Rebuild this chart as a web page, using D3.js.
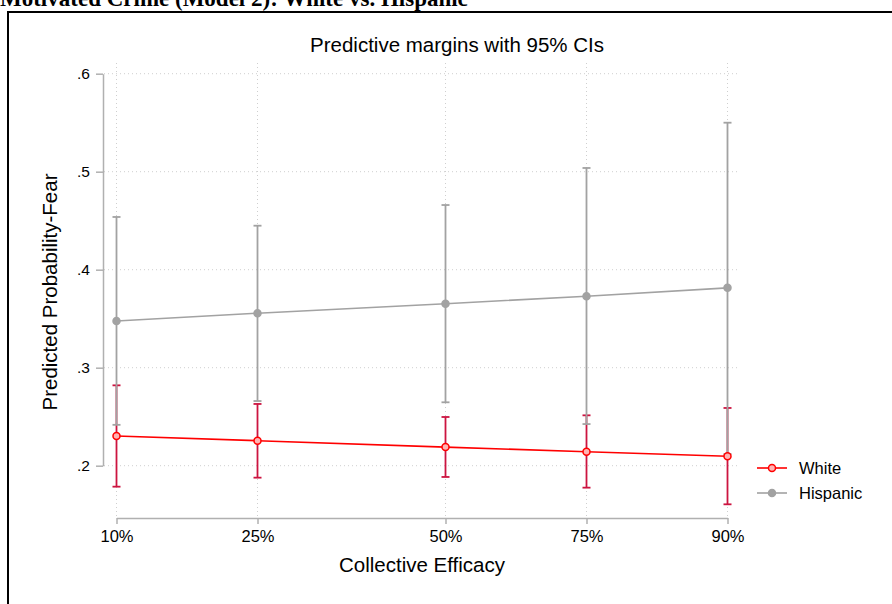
<!DOCTYPE html>
<html>
<head>
<meta charset="utf-8">
<script src="https://cdn.jsdelivr.net/npm/d3@7"></script>
<style>
  body { margin: 0; background: #fff; }
  svg { display: block; font-family: "Liberation Sans", Arial, sans-serif; }
</style>
</head>
<body>
<div id="chart"></div>
<script>
// Chart data
const percentileLabels = ["10%", "25%", "50%", "75%", "90%"];
const efficacyValues = [-0.65, -0.35, 0.05, 0.35, 0.65];
const yTicks = [0.2, 0.3, 0.4, 0.5, 0.6];

const whiteMargin = [0.2303, 0.2255, 0.219, 0.2143, 0.2096];
const whiteLower = [0.1786, 0.1878, 0.1885, 0.1776, 0.1606];
const whiteUpper = [0.282, 0.263, 0.2497, 0.2514, 0.2589];

const hispanicMargin = [0.3477, 0.3556, 0.3653, 0.3729, 0.3815];
const hispanicLower = [0.2417, 0.266, 0.2647, 0.2425, 0.212];
const hispanicUpper = [0.4538, 0.4449, 0.466, 0.5038, 0.55];

const seriesNames = ["White", "Hispanic"];

//Chart Variables and Constants
const width = 892;
const height = 604;
const lineRed = "#ff0000";
const ciRed = "#cc1440";
const gray = "#a2a2a2";
const axisGray = "#b0b0b0";
const gridGray = "#cfcfcf";

const svg = d3
  .select("#chart")
  .append("svg")
  .attr("width", width)
  .attr("height", height);

//Outer title and frame
svg
  .append("text")
  .attr("x", 0)
  .attr("y", 6)
  .attr("font-family", "'Liberation Serif', 'Times New Roman', serif")
  .attr("font-weight", "bold")
  .attr("font-size", "23px")
  .text("Motivated Crime (Model 2): White vs. Hispanic");

svg
  .append("rect")
  .attr("x", 8)
  .attr("y", 12)
  .attr("width", 900)
  .attr("height", 620)
  .attr("fill", "none")
  .attr("stroke", "#000")
  .attr("stroke-width", 2);

//Scales
const x = d3
  .scaleLinear()
  .domain([efficacyValues[0], efficacyValues[efficacyValues.length - 1]])
  .range([116.5, 727.5]);

const y = d3.scaleLinear().domain([0.2, 0.6]).range([465.7, 73.7]);

const plotTop = 63;
const plotBottom = 518;
const plotLeft = 104;
const plotRight = 739;

//Gridlines
const grid = svg.append("g").attr("class", "grid");
grid
  .selectAll(".hgrid")
  .data(yTicks)
  .enter()
  .append("line")
  .attr("x1", plotLeft)
  .attr("x2", plotRight)
  .attr("y1", (d) => y(d))
  .attr("y2", (d) => y(d))
  .attr("stroke", gridGray)
  .attr("stroke-dasharray", "1,3");

grid
  .selectAll(".vgrid")
  .data(efficacyValues)
  .enter()
  .append("line")
  .attr("x1", (d) => x(d))
  .attr("x2", (d) => x(d))
  .attr("y1", plotTop)
  .attr("y2", plotBottom)
  .attr("stroke", gridGray)
  .attr("stroke-dasharray", "1,3");

//Axes
const yAxis = svg
  .append("g")
  .attr("transform", `translate(${plotLeft - 1},0)`)
  .call(
    d3
      .axisLeft(y)
      .tickValues(yTicks)
      .tickFormat((d) => d3.format(".1f")(d).replace(/^0/, ""))
      .tickSize(7)
      .tickSizeOuter(0)
      .tickPadding(6)
  );

const xAxis = svg
  .append("g")
  .attr("transform", `translate(0,${plotBottom})`)
  .call(
    d3
      .axisBottom(x)
      .tickValues(efficacyValues)
      .tickFormat((d, i) => percentileLabels[i])
      .tickSize(6)
      .tickSizeOuter(0)
      .tickPadding(6)
  );

[
  [xAxis, "16.5px"],
  [yAxis, "15.5px"],
].forEach(([g, size]) => {
  g.attr("font-size", size).attr("font-family", "'Liberation Sans', Arial, sans-serif");
  g.select(".domain").attr("stroke", axisGray).attr("stroke-width", 1.5);
  g.selectAll(".tick line").attr("stroke", axisGray).attr("stroke-width", 1.5);
  g.selectAll(".tick text")
    .attr("fill", "#000")
    .attr("font-size", size)
    .style("font-size", size);
});

//Titles
svg
  .append("text")
  .attr("x", 457)
  .attr("y", 52)
  .attr("text-anchor", "middle")
  .attr("font-size", "20.5px")
  .text("Predictive margins with 95% CIs");

svg
  .append("text")
  .attr("transform", `translate(57, 292) rotate(-90)`)
  .attr("text-anchor", "middle")
  .attr("font-size", "20.5px")
  .text("Predicted Probability-Fear");

svg
  .append("text")
  .attr("x", 422)
  .attr("y", 572)
  .attr("text-anchor", "middle")
  .attr("font-size", "20.5px")
  .text("Collective Efficacy");

//Series
const series = [
  {
    name: seriesNames[0],
    margin: whiteMargin,
    lower: whiteLower,
    upper: whiteUpper,
    lineColor: lineRed,
    ciColor: ciRed,
    fill: "#ffb3b3",
  },
  {
    name: seriesNames[1],
    margin: hispanicMargin,
    lower: hispanicLower,
    upper: hispanicUpper,
    lineColor: gray,
    ciColor: gray,
    fill: gray,
  },
];

const capHalf = 4;

//Confidence intervals first
series.forEach((s) => {
  const g = svg.append("g").attr("class", "ci");
  const rows = efficacyValues.map((v, i) => ({ v, lo: s.lower[i], hi: s.upper[i] }));
  g.selectAll(".bar")
    .data(rows)
    .enter()
    .append("line")
    .attr("x1", (d) => x(d.v))
    .attr("x2", (d) => x(d.v))
    .attr("y1", (d) => y(d.lo))
    .attr("y2", (d) => y(d.hi))
    .attr("stroke", s.ciColor)
    .attr("stroke-width", 1.8);
  ["lo", "hi"].forEach((k) => {
    g.selectAll(".cap-" + k)
      .data(rows)
      .enter()
      .append("line")
      .attr("x1", (d) => x(d.v) - capHalf)
      .attr("x2", (d) => x(d.v) + capHalf)
      .attr("y1", (d) => y(d[k]))
      .attr("y2", (d) => y(d[k]))
      .attr("stroke", s.ciColor)
      .attr("stroke-width", 1.8);
  });
});

//Lines and markers
const line = d3
  .line()
  .x((d) => x(d[0]))
  .y((d) => y(d[1]));

series.forEach((s) => {
  const pts = efficacyValues.map((v, i) => [v, s.margin[i]]);
  svg
    .append("path")
    .datum(pts)
    .attr("d", line)
    .attr("fill", "none")
    .attr("stroke", s.lineColor)
    .attr("stroke-width", 1.6);
  svg
    .append("g")
    .selectAll("circle")
    .data(pts)
    .enter()
    .append("circle")
    .attr("cx", (d) => x(d[0]))
    .attr("cy", (d) => y(d[1]))
    .attr("r", 3.5)
    .attr("fill", s.fill)
    .attr("stroke", s.lineColor)
    .attr("stroke-width", 1.5);
});

//Legend
const legend = svg
  .append("g")
  .attr("transform", "translate(757, 468)");

const legendItems = legend
  .selectAll(".legend-item")
  .data(series)
  .enter()
  .append("g")
  .attr("transform", (d, i) => `translate(0, ${i * 25})`);

legendItems
  .append("line")
  .attr("x1", 0)
  .attr("x2", 30)
  .attr("stroke", (d) => d.lineColor)
  .attr("stroke-width", 1.6);

legendItems
  .append("circle")
  .attr("cx", 15)
  .attr("r", 3.5)
  .attr("fill", (d) => d.fill)
  .attr("stroke", (d) => d.lineColor)
  .attr("stroke-width", 1.5);

legendItems
  .append("text")
  .attr("x", 42)
  .attr("y", 6)
  .attr("font-size", "16.5px")
  .text((d) => d.name);
</script>
</body>
</html>
